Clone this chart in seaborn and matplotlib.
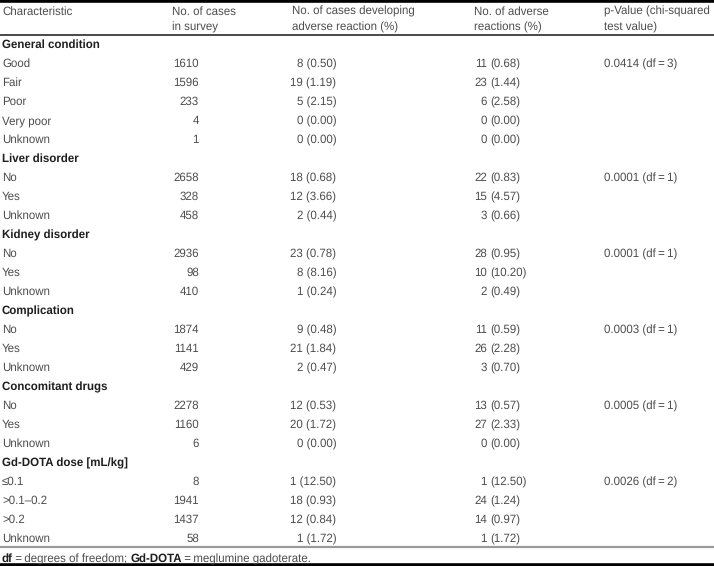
import matplotlib
matplotlib.use("Agg")
from matplotlib import pyplot as plt
import seaborn as sns

sns.set_theme(style="white")
plt.rcParams["font.family"] = ["Liberation Sans", "DejaVu Sans"]
plt.rcParams["text.hinting"] = "no_hinting"

# table data
groups = ["General condition", "Liver disorder", "Kidney disorder",
          "Complication", "Concomitant drugs", "Gd-DOTA dose [mL/kg]"]
levels = [
    ["Good", "Fair", "Poor", "Very poor", "Unknown"],
    ["No", "Yes", "Unknown"],
    ["No", "Yes", "Unknown"],
    ["No", "Yes", "Unknown"],
    ["No", "Yes", "Unknown"],
    ["\u22640.1", ">0.1\u20130.2", ">0.2", "Unknown"],
]
n_cases = [
    [1610, 1596, 233, 4, 1],
    [2658, 328, 458],
    [2936, 98, 410],
    [1874, 1141, 429],
    [2278, 1160, 6],
    [8, 1941, 1437, 58],
]
cases_adverse = [
    [8, 19, 5, 0, 0],
    [18, 12, 2],
    [23, 8, 1],
    [9, 21, 2],
    [12, 20, 0],
    [1, 18, 12, 1],
]
cases_adverse_pct = [
    [0.50, 1.19, 2.15, 0.00, 0.00],
    [0.68, 3.66, 0.44],
    [0.78, 8.16, 0.24],
    [0.48, 1.84, 0.47],
    [0.53, 1.72, 0.00],
    [12.50, 0.93, 0.84, 1.72],
]
reactions = [
    [11, 23, 6, 0, 0],
    [22, 15, 3],
    [28, 10, 2],
    [11, 26, 3],
    [13, 27, 0],
    [1, 24, 14, 1],
]
reactions_pct = [
    [0.68, 1.44, 2.58, 0.00, 0.00],
    [0.83, 4.57, 0.66],
    [0.95, 10.20, 0.49],
    [0.59, 2.28, 0.70],
    [0.57, 2.33, 0.00],
    [12.50, 1.24, 0.97, 1.72],
]
p_values = ["0.0414", "0.0001", "0.0001", "0.0003", "0.0005", "0.0026"]
dfs = [3, 1, 1, 1, 1, 2]

headers = ["Characteristic", "No. of cases\nin survey",
           "No. of cases developing\nadverse reaction (%)",
           "No. of adverse\nreactions (%)", "p-Value (chi-squared\ntest value)"]

W, H = 714, 566
fig = plt.figure(figsize=(W / 100, H / 100), dpi=100)
ax = fig.add_axes([0, 0, 1, 1])
ax.set_xlim(0, W)
ax.set_ylim(H, 0)
ax.axis("off")

fs = 8.3
body = "#4d4d4d"
dark = "#1e1e1e"
thin = "\u2009"

# rules
ax.axhline(1.2, color="black", lw=2.6)
ax.axhline(34.5, color="#2a2a2a", lw=1.2)
ax.axhline(547, color="#9a9a9a", lw=1.6)
ax.axhline(564.8, color="black", lw=2.6)

# header
hx = [2, 172, 292, 474, 604]
for x, h in zip(hx, headers):
    for k, line in enumerate(h.split("\n")):
        ax.text(x, 15 + 16 * k, line, fontsize=fs, color=body, ha="left", va="baseline")

row = 0
def ybase(r):
    return 44 + 19 * r + 4.2

for g in range(len(groups)):
    ax.text(2, ybase(row), groups[g], fontsize=fs, color=dark, fontweight="bold",
            ha="left", va="baseline")
    row += 1
    for i, lev in enumerate(levels[g]):
        yb = ybase(row)
        ax.text(2, yb, lev, fontsize=fs, color=body, ha="left", va="baseline")
        ax.text(199, yb, str(n_cases[g][i]), fontsize=fs, color=body, ha="right", va="baseline")
        ax.text(336.5, yb, f"{cases_adverse[g][i]} ({cases_adverse_pct[g][i]:.2f})",
                fontsize=fs, color=body, ha="right", va="baseline")
        ax.text(487, yb, str(reactions[g][i]), fontsize=fs, color=body, ha="right", va="baseline")
        ax.text(490, yb, f"({reactions_pct[g][i]:.2f})", fontsize=fs, color=body,
                ha="left", va="baseline")
        if i == 0:
            ax.text(604, yb, f"{p_values[g]} (df{thin}={thin}{dfs[g]})", fontsize=fs,
                    color=body, ha="left", va="baseline")
        row += 1

# footnote with bold parts
parts = [("df", dark, "bold"), (f"{thin}={thin}degrees of freedom; ", body, "normal"),
         ("Gd-DOTA", dark, "bold"), (f"{thin}={thin}meglumine gadoterate.", body, "normal")]
fig.canvas.draw()
renderer = fig.canvas.get_renderer()
x = 2
for txt, col, wt in parts:
    t = ax.text(x, 558 + 4.2, txt, fontsize=fs, color=col, fontweight=wt, ha="left", va="baseline")
    bb = t.get_window_extent(renderer)
    x += bb.width

fig.savefig("out.png", dpi=100)
